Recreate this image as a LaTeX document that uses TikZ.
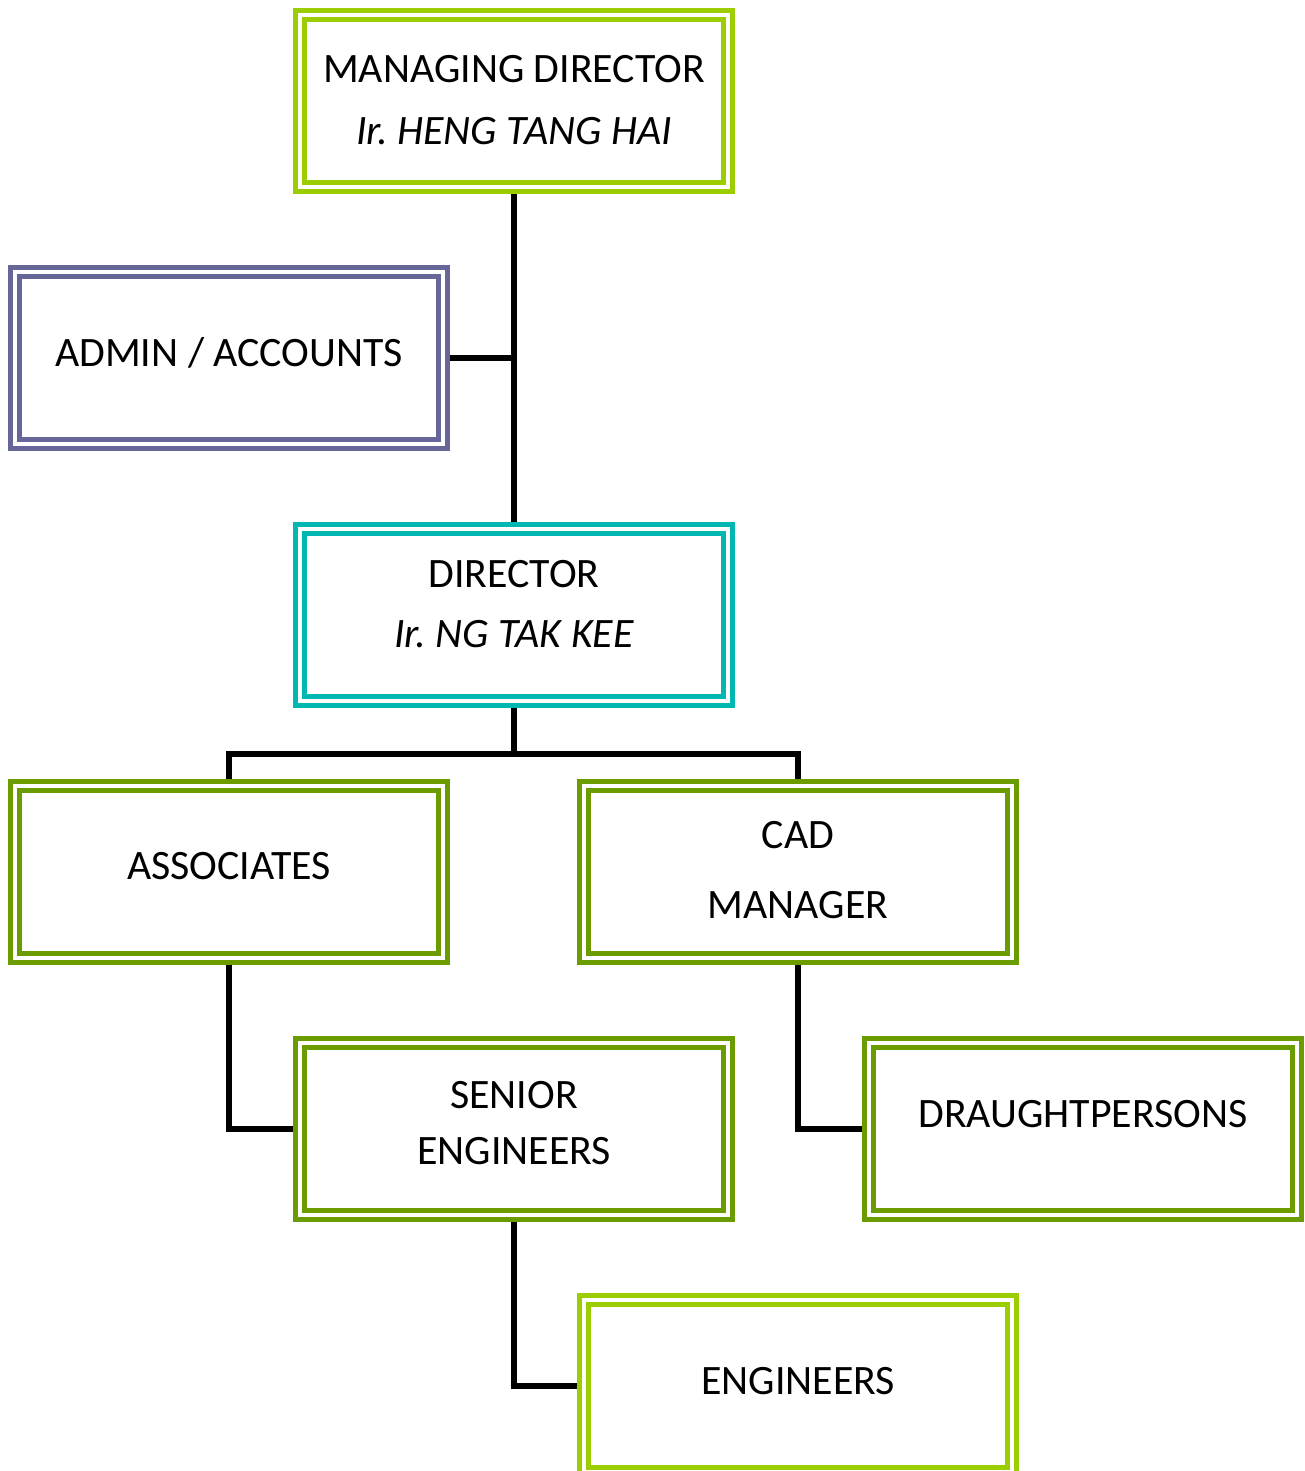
\documentclass[tikz,border=0pt]{standalone}
\usepackage{fontspec}
\setmainfont{Carlito}
\definecolor{limegreen}{RGB}{155,205,0}
\definecolor{olivegreen}{RGB}{106,156,0}
\definecolor{slatepurple}{RGB}{102,102,153}
\definecolor{tealblue}{RGB}{0,183,178}
% raise text without changing the node size
\newcommand{\lift}[2]{\raisebox{#1}[\height][\depth]{#2}}
\begin{document}
\begin{tikzpicture}[x=0.01cm,y=-0.01cm,
    post/.style={draw=#1, double=white, line width=0.5mm, double distance=0.4mm,
      minimum width=4.27cm, minimum height=1.71cm, outer sep=0.7mm,
      align=center, font=\fontsize{11.9}{14.3}\selectfont},
    link/.style={line width=0.6mm}]
  \useasboundingbox (0,0) rectangle (1304,1471);
  % boxes
  \node[post=limegreen] (md) at (514,101) {\lift{0.3pt}{MANAGING DIRECTOR}\\[3.3pt]\lift{0.3pt}{\textit{Ir.\ HENG TANG HAI}}};
  \node[post=slatepurple] (admin) at (229,358) {\lift{1.4pt}{ADMIN / ACCOUNTS}};
  \node[post=tealblue] (dir) at (514,615) {\lift{3.1pt}{DIRECTOR}\\[2.8pt]\lift{3.1pt}{\textit{Ir.\ NG TAK KEE}}};
  \node[post=olivegreen] (assoc) at (229,872) {\lift{1.7pt}{ASSOCIATES}};
  \node[post=olivegreen] (cad) at (798,872) {\lift{0.6pt}{CAD}\\[5.6pt]\lift{0.6pt}{MANAGER}};
  \node[post=olivegreen] (senior) at (514,1129) {\lift{1.7pt}{SENIOR}\\[1.8pt]\lift{1.7pt}{ENGINEERS}};
  \node[post=olivegreen] (draught) at (1083,1129) {\lift{4.3pt}{DRAUGHTPERSONS}};
  \node[post=limegreen] (eng) at (798,1386) {\lift{1.4pt}{ENGINEERS}};
  % lines
  \coordinate (split) at (514,754);
  \draw[link] (md) -- (dir);
  \draw[link] (admin.east) -- (admin.east -| md.south);
  \draw[link] (dir) -- (split);
  \draw[link] (assoc.north) |- (split) -| (cad.north);
  \draw[link] (assoc.south) |- (senior.west);
  \draw[link] (cad.south) |- (draught.west);
  \draw[link] (senior.south) |- (eng.west);
\end{tikzpicture}
\end{document}
